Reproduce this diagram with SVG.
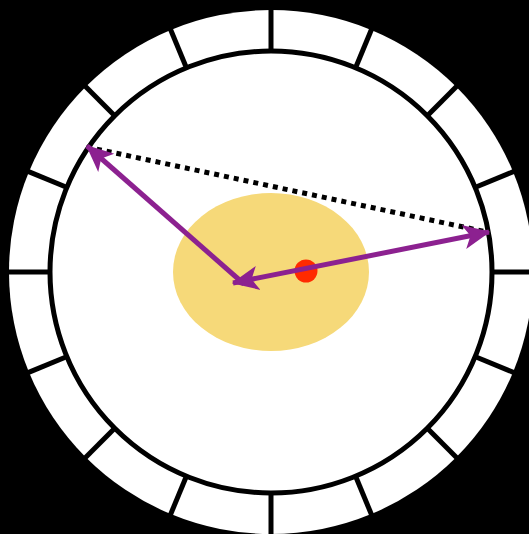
<svg xmlns="http://www.w3.org/2000/svg" width="529" height="534" viewBox="0 0 529 534">
<style>
.tick{stroke:#000;stroke-width:5}
.arrow{stroke:#8c2190;stroke-width:5;fill:none}
</style>
<defs>
<marker id="ah" viewBox="0 0 20 20" refX="19" refY="10" markerWidth="27" markerHeight="27" markerUnits="userSpaceOnUse" orient="auto-start-reverse">
<path d="M0,1 L20,10 L0,19 L5,10 z" fill="#8c2190"/>
</marker>
<line id="t" class="tick" x1="271" y1="52" x2="271" y2="9"/>
</defs>
<rect width="529" height="534" fill="#000"/>
<g id="dial">
<circle cx="271" cy="272" r="262" fill="#fff"/>
<use href="#t"/>
<use href="#t" transform="rotate(22.5 271 272)"/>
<use href="#t" transform="rotate(45 271 272)"/>
<use href="#t" transform="rotate(67.5 271 272)"/>
<use href="#t" transform="rotate(90 271 272)"/>
<use href="#t" transform="rotate(112.5 271 272)"/>
<use href="#t" transform="rotate(135 271 272)"/>
<use href="#t" transform="rotate(157.5 271 272)"/>
<use href="#t" transform="rotate(180 271 272)"/>
<use href="#t" transform="rotate(202.5 271 272)"/>
<use href="#t" transform="rotate(225 271 272)"/>
<use href="#t" transform="rotate(247.5 271 272)"/>
<use href="#t" transform="rotate(270 271 272)"/>
<use href="#t" transform="rotate(292.5 271 272)"/>
<use href="#t" transform="rotate(315 271 272)"/>
<use href="#t" transform="rotate(337.5 271 272)"/>
<circle cx="271" cy="272" r="221" fill="#fff" stroke="#000" stroke-width="5"/>
</g>
<g id="ellipse">
<ellipse cx="271" cy="272" rx="98" ry="79" fill="#f6d979"/>
</g>
<g id="dot">
<circle cx="306" cy="271" r="11.5" fill="#ff2a00"/>
</g>
<g id="connectors">
<line x1="87" y1="147" x2="487" y2="232" stroke="#000" stroke-width="5" stroke-dasharray="5 5"/>
<line class="arrow" x1="244" y1="284" x2="87" y2="146" marker-end="url(#ah)"/>
<line class="arrow" x1="233" y1="283" x2="489" y2="232" marker-start="url(#ah)" marker-end="url(#ah)"/>
</g>
</svg>
